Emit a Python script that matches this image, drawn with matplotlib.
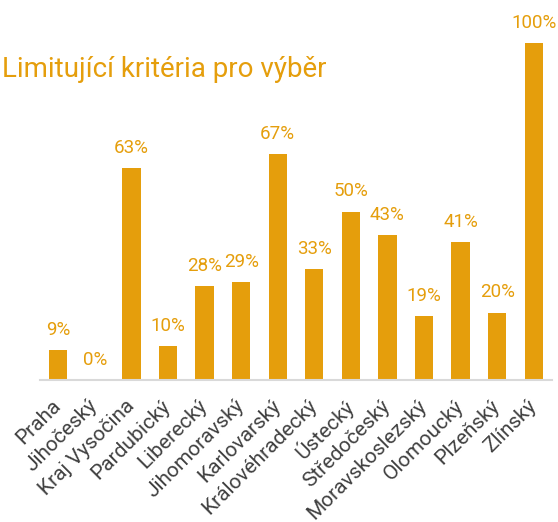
import matplotlib
matplotlib.use("Agg")
import matplotlib.pyplot as plt

# data
regions = ["Praha", "Jihočeský", "Kraj Vysočina", "Pardubický", "Liberecký",
           "Jihomoravský", "Karlovarský", "Královéhradecký", "Ústecký",
           "Středočeský", "Moravskoslezský", "Olomoucký", "Plzeňský", "Zlínský"]
values = [9, 0, 63, 10, 28, 29, 67, 33, 50, 43, 19, 41, 20, 100]

orange = "#E59E0C"
plt.rcParams["font.family"] = ["Roboto", "DejaVu Sans"]

fig = plt.figure(figsize=(5.58, 5.22), dpi=100)
ax = fig.add_axes([40 / 558, (522 - 380) / 522, 512 / 558, 337 / 522])

x = range(len(regions))
bars = ax.bar(x, values, width=0.5, color=orange)
ax.set_xlim(-0.5, len(regions) - 0.5)
ax.set_ylim(0, 100)

for xi, v in zip(x, values):
    ax.annotate(f"{v}%", (xi, v), xytext=(0, 8), textcoords="offset points",
                ha="center", va="bottom", color=orange, fontsize=13.5,
                annotation_clip=False)

ax.set_xticks(list(x))
ax.set_xticklabels(regions, rotation=45, ha="right", va="center",
                   rotation_mode="anchor", fontsize=15, color="#404040")
ax.tick_params(axis="x", length=0, pad=16.5)
ax.set_yticks([])
for s in ["top", "left", "right"]:
    ax.spines[s].set_visible(False)
ax.spines["bottom"].set_color("#D9D9D9")
ax.spines["bottom"].set_linewidth(1.5)

fig.text(2 / 558, 1 - 77 / 522, "Limitující kritéria pro výběr", color=orange,
         fontsize=20, ha="left", va="baseline")

fig.savefig("out.png", dpi=100)
